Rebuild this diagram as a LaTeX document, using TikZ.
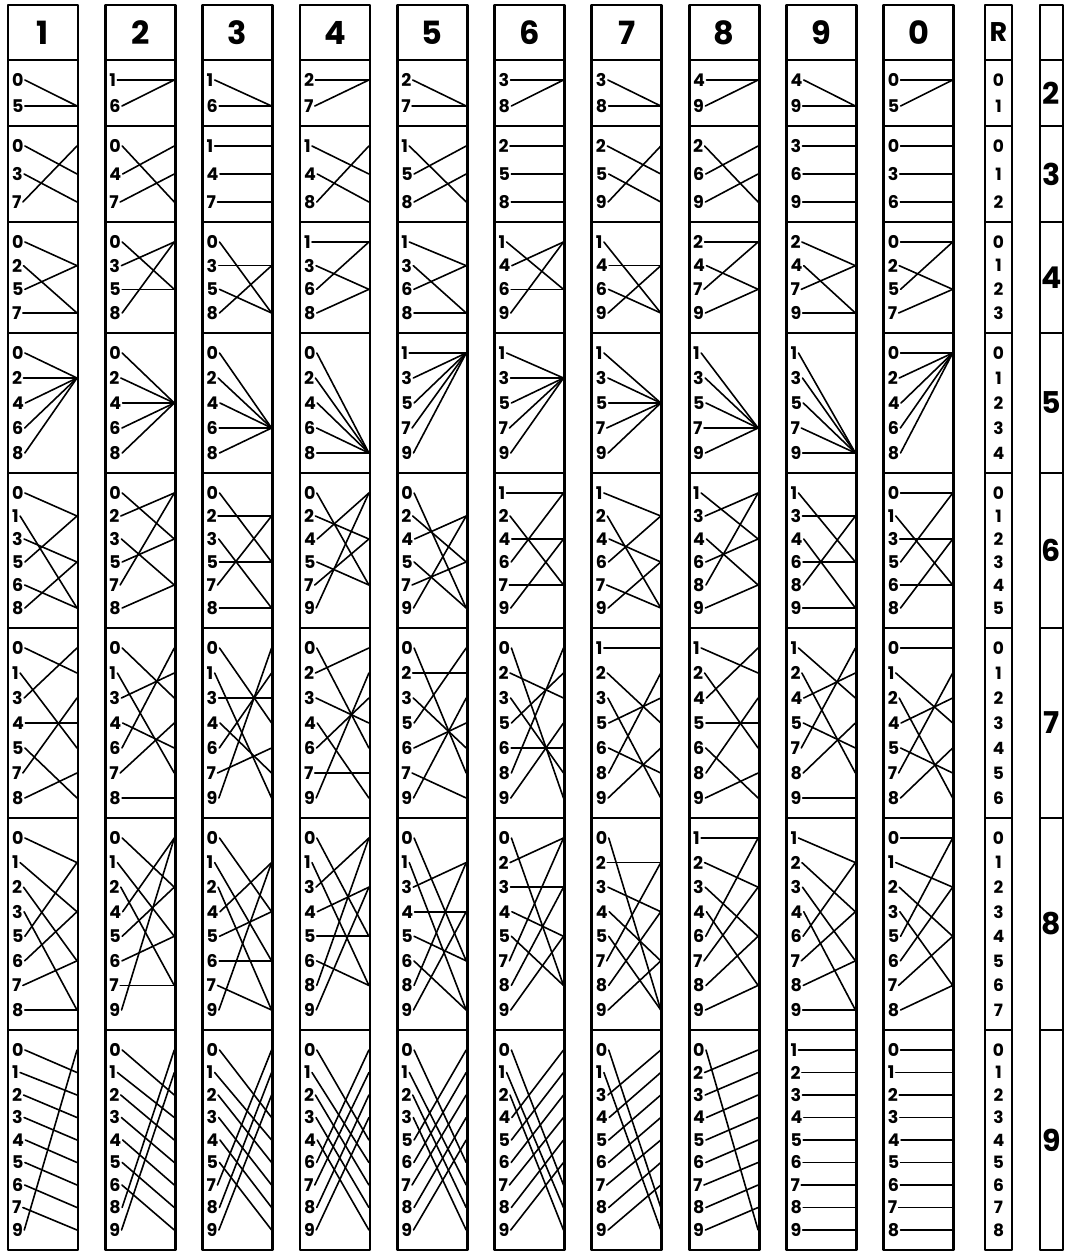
\documentclass[tikz,border=0pt]{standalone}
\usepackage{fontspec}
\setmainfont{Poppins}
\begin{document}
\begin{tikzpicture}[x=1pt,y=-1pt,
  boxline/.style={line width=2.8pt, line join=round},
  wire/.style={line width=1.6pt, line cap=round},
  lab/.style={inner sep=0.4pt, anchor=west, font=\fontsize{17.5}{17.5}\selectfont\bfseries},
  rlab/.style={inner sep=0pt, font=\fontsize{17}{17}\selectfont\bfseries},
  head/.style={inner sep=0pt, font=\fontsize{32}{32}\selectfont\bfseries},
  side/.style={inner sep=0pt, font=\fontsize{30}{30}\selectfont\bfseries},
  ]
\useasboundingbox (0,0) rectangle (1075,1259);
\def\rowb{{5,60,126,222,333,473,628,818,1030,1250}}
\def\digs{{1,2,3,4,5,6,7,8,9,0}}
% rulers
\foreach \ci in {0,...,9}{
  \pgfmathsetmacro\xL{8+97.3*\ci}
  \pgfmathsetmacro\xR{\xL+70}
  \pgfmathtruncatemacro\dg{\digs[\ci]}
  \node[head] (H\ci) at ({\xL+35},32.5) {\dg};
  \foreach \m in {2,...,9}{
    \pgfmathsetmacro\yT{\rowb[\m-1]}
    \pgfmathsetmacro\yB{\rowb[\m]}
    \pgfmathsetmacro\spc{(\yB-\yT-40)/(\m-1)}
    \pgfmathtruncatemacro\mm{\m-1}
    \foreach \kk in {0,...,\mm}{
      \coordinate (S\ci-\m-\kk) at (\xR-1,{\yT+20+\kk*\spc});
    }
    \foreach \rr in {0,...,\mm}{
      \pgfmathtruncatemacro\labv{floor((10*\rr+\dg)/\m)}
      \pgfmathtruncatemacro\tgt{mod(10*\rr+\dg,\m)}
      \node[lab] (L\ci-\m-\rr) at ({\xL+3.5},{\yT+20+\rr*\spc}) {\labv};
      \draw[wire] ([xshift=0.8pt]L\ci-\m-\rr.east) -- (S\ci-\m-\tgt);
    }
  }
  \draw[boxline] (\xL,5) rectangle (\xR,1250);
  \foreach \m in {1,...,8}{
    \pgfmathsetmacro\yy{\rowb[\m]}
    \draw[boxline] (\xL,\yy) -- (\xR,\yy);
  }
}
% R column
\node[head, font=\fontsize{27}{27}\selectfont\bfseries] (HR) at (998.5,32.5) {R};
\foreach \m in {2,...,9}{
  \pgfmathsetmacro\yT{\rowb[\m-1]}
  \pgfmathsetmacro\yB{\rowb[\m]}
  \pgfmathsetmacro\spc{(\yB-\yT-40)/(\m-1)}
  \pgfmathtruncatemacro\mm{\m-1}
  \foreach \rr in {0,...,\mm}{
    \node[rlab] (R\m-\rr) at (998.5,{\yT+20+\rr*\spc}) {\rr};
  }
  \node[side] (M\m) at (1051.5,{(\yT+\yB)/2}) {\m};
}
\draw[boxline] (985,5) rectangle (1012,1250);
\draw[boxline] (1040,5) rectangle (1063,1250);
\foreach \m in {1,...,8}{
  \pgfmathsetmacro\yy{\rowb[\m]}
  \draw[boxline] (985,\yy) -- (1012,\yy);
  \draw[boxline] (1040,\yy) -- (1063,\yy);
}
\end{tikzpicture}
\end{document}
